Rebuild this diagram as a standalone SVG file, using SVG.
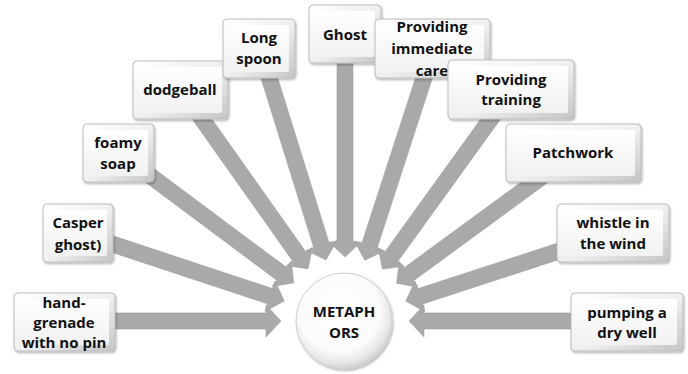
<svg xmlns="http://www.w3.org/2000/svg" width="688" height="374" viewBox="0 0 688 374">
<style>
.bx{fill:url(#bev);stroke:#bdbdbd;stroke-width:1}
.fc{fill:url(#face)}
.t{font-family:"Open Sans","Noto Sans","Liberation Sans",sans-serif;font-weight:700;font-size:15px;fill:#111;text-anchor:middle}
.ar{fill:#a9a9a9;stroke:#9f9f9f;stroke-width:0.6}
</style>
<defs>
<linearGradient id="bev" x1="0" y1="0" x2="1" y2="1">
<stop offset="0" stop-color="#ffffff"/><stop offset="0.55" stop-color="#eeeeee"/><stop offset="1" stop-color="#c4c4c4"/>
</linearGradient>
<linearGradient id="face" x1="0" y1="0" x2="0" y2="1">
<stop offset="0" stop-color="#ffffff"/><stop offset="1" stop-color="#f1f1f1"/>
</linearGradient>
<radialGradient id="ball" cx="0.45" cy="0.4" r="0.6">
<stop offset="0" stop-color="#ffffff"/><stop offset="0.7" stop-color="#fbfbfb"/><stop offset="0.9" stop-color="#e6e6e6"/><stop offset="1" stop-color="#d0d0d0"/>
</radialGradient>
<filter id="sh" x="-10%" y="-10%" width="125%" height="130%">
<feDropShadow dx="1" dy="1.5" stdDeviation="1" flood-color="#000" flood-opacity="0.3"/>
</filter>
</defs>
<rect width="688" height="374" fill="#fff"/>
<g id="connectors">
<polygon class="ar" points="64,0 79,-16 79,-8 280,-8 280,8 79,8 79,16" transform="translate(345 321) rotate(180)"/>
<polygon class="ar" points="64,0 79,-16 79,-8 275,-8 275,8 79,8 79,16" transform="translate(345 321) rotate(198.3)"/>
<polygon class="ar" points="64,0 79,-16 79,-8 280,-8 280,8 79,8 79,16" transform="translate(345 321) rotate(216.7)"/>
<polygon class="ar" points="64,0 79,-16 79,-8 280,-8 280,8 79,8 79,16" transform="translate(345 321) rotate(234.7)"/>
<polygon class="ar" points="64,0 79,-16 79,-8 280,-8 280,8 79,8 79,16" transform="translate(345 321) rotate(252.7)"/>
<polygon class="ar" points="64,0 79,-16 79,-8 280,-8 280,8 79,8 79,16" transform="translate(345 321) rotate(270)"/>
<polygon class="ar" points="64,0 79,-16 79,-8 280,-8 280,8 79,8 79,16" transform="translate(345 321) rotate(288)"/>
<polygon class="ar" points="64,0 79,-16 79,-8 280,-8 280,8 79,8 79,16" transform="translate(345 321) rotate(305.8)"/>
<polygon class="ar" points="64,0 79,-16 79,-8 280,-8 280,8 79,8 79,16" transform="translate(345 321) rotate(323.8)"/>
<polygon class="ar" points="64,0 79,-16 79,-8 280,-8 280,8 79,8 79,16" transform="translate(345 321) rotate(341.9)"/>
<polygon class="ar" points="64,0 79,-16 79,-8 280,-8 280,8 79,8 79,16" transform="translate(345 321) rotate(0)"/>
</g>
<g id="center">
<circle cx="344" cy="321" r="48" fill="url(#ball)" stroke="#cfcfcf" filter="url(#sh)"/>
<text class="t" x="344" y="317">METAPH</text>
<text class="t" x="344" y="338">ORS</text>
</g>
<g id="n-grenade">
<rect class="bx" x="14" y="293" width="101" height="58" rx="4" filter="url(#sh)"/>
<rect class="fc" x="20" y="299" width="89" height="46" rx="2"/>
<text class="t" x="64" y="308">hand-</text>
<text class="t" x="64" y="328">grenade</text>
<text class="t" x="64" y="348">with no pin</text>
</g>
<g id="n-casper">
<rect class="bx" x="43" y="204" width="70" height="58" rx="4" filter="url(#sh)"/>
<rect class="fc" x="49" y="210" width="58" height="46" rx="2"/>
<text class="t" x="78" y="228">Casper</text>
<text class="t" x="78" y="250">ghost)</text>
</g>
<g id="n-foamy">
<rect class="bx" x="83" y="124" width="71" height="58" rx="4" filter="url(#sh)"/>
<rect class="fc" x="89" y="130" width="59" height="46" rx="2"/>
<text class="t" x="118" y="148">foamy</text>
<text class="t" x="118" y="169">soap</text>
</g>
<g id="n-dodgeball">
<rect class="bx" x="133" y="61" width="95" height="58" rx="4" filter="url(#sh)"/>
<rect class="fc" x="139" y="67" width="83" height="46" rx="2"/>
<text class="t" x="180" y="95">dodgeball</text>
</g>
<g id="n-longspoon">
<rect class="bx" x="223" y="19" width="72" height="59" rx="4" filter="url(#sh)"/>
<rect class="fc" x="229" y="25" width="60" height="47" rx="2"/>
<text class="t" x="259" y="43">Long</text>
<text class="t" x="259" y="64">spoon</text>
</g>
<g id="n-ghost">
<rect class="bx" x="309" y="5" width="72" height="58" rx="4" filter="url(#sh)"/>
<rect class="fc" x="315" y="11" width="60" height="46" rx="2"/>
<text class="t" x="345" y="40">Ghost</text>
</g>
<g id="n-care">
<rect class="bx" x="375" y="19" width="115" height="59" rx="4" filter="url(#sh)"/>
<rect class="fc" x="381" y="25" width="103" height="47" rx="2"/>
<text class="t" x="432" y="32">Providing</text>
<text class="t" x="432" y="54">immediate</text>
<text class="t" x="432" y="76">care</text>
</g>
<g id="n-training">
<rect class="bx" x="448" y="60" width="126" height="59" rx="4" filter="url(#sh)"/>
<rect class="fc" x="454" y="66" width="114" height="47" rx="2"/>
<text class="t" x="511" y="85">Providing</text>
<text class="t" x="511" y="105">training</text>
</g>
<g id="n-patchwork">
<rect class="bx" x="506" y="124" width="135" height="58" rx="4" filter="url(#sh)"/>
<rect class="fc" x="512" y="130" width="123" height="46" rx="2"/>
<text class="t" x="573" y="158">Patchwork</text>
</g>
<g id="n-whistle">
<rect class="bx" x="557" y="204" width="112" height="58" rx="4" filter="url(#sh)"/>
<rect class="fc" x="563" y="210" width="100" height="46" rx="2"/>
<text class="t" x="613" y="228">whistle in</text>
<text class="t" x="613" y="249">the wind</text>
</g>
<g id="n-pumping">
<rect class="bx" x="571" y="293" width="112" height="58" rx="4" filter="url(#sh)"/>
<rect class="fc" x="577" y="299" width="100" height="46" rx="2"/>
<text class="t" x="627" y="318">pumping a</text>
<text class="t" x="627" y="338">dry well</text>
</g>
</svg>
